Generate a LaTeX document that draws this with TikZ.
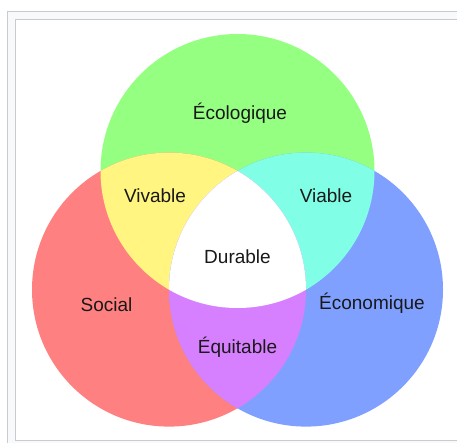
\documentclass[tikz,border=0pt]{standalone}
\usepackage{fontspec}
\setmainfont{Liberation Sans}
\definecolor{frameline}{HTML}{C8CCD1}
\definecolor{framefill}{HTML}{F8F9FA}
\definecolor{cgreen}{HTML}{94FF80}
\definecolor{cred}{HTML}{FF8080}
\definecolor{cblue}{HTML}{80A0FF}
\definecolor{cyellow}{HTML}{FFF580}
\definecolor{ccyan}{HTML}{80FFE6}
\definecolor{cmagenta}{HTML}{D780FF}
\tikzset{
  lbl/.style={font=\fontsize{19}{22}\selectfont, text=black!90, inner sep=0pt, anchor=center}
}
\begin{document}
\begin{tikzpicture}[x=1pt,y=-1pt]
\useasboundingbox (0,0) rectangle (457,443);
% frame
\fill[framefill] (7.5,11.5) rectangle (470,460);
\draw[frameline, line width=1.2pt] (7.5,460) -- (7.5,11.5) -- (470,11.5);
\fill[white] (15.5,19.5) rectangle (470,440.5);
\draw[frameline, line width=1.2pt] (15.5,440.5) -- (15.5,19.5) -- (470,19.5);
\draw[frameline, line width=1.2pt] (15.5,440.5) -- (470,440.5);
% circles
\coordinate (G) at (237.5,171);
\coordinate (R) at (169,289.6);
\coordinate (B) at (306,289.6);
\def\rr{137}
\fill[cgreen] (G) circle (\rr);
\fill[cred] (R) circle (\rr);
\fill[cblue] (B) circle (\rr);
\begin{scope}
  \clip (G) circle (\rr);
  \fill[cyellow] (R) circle (\rr);
  \fill[ccyan] (B) circle (\rr);
\end{scope}
\begin{scope}
  \clip (R) circle (\rr);
  \fill[cmagenta] (B) circle (\rr);
\end{scope}
\begin{scope}
  \clip (G) circle (\rr);
  \clip (R) circle (\rr);
  \fill[white] (B) circle (\rr);
\end{scope}
% labels
\node[lbl] (eco) at (240,113) {Écologique};
\node[lbl] (viv) at (155,196) {Vivable};
\node[lbl] (via) at (326,196) {Viable};
\node[lbl] (soc) at (106.5,305) {Social};
\node[lbl] (econ) at (372,303) {Économique};
\node[lbl] (equ) at (237.5,347) {Équitable};
\node[lbl] (dur) at (237.5,257) {Durable};
\end{tikzpicture}
\end{document}
